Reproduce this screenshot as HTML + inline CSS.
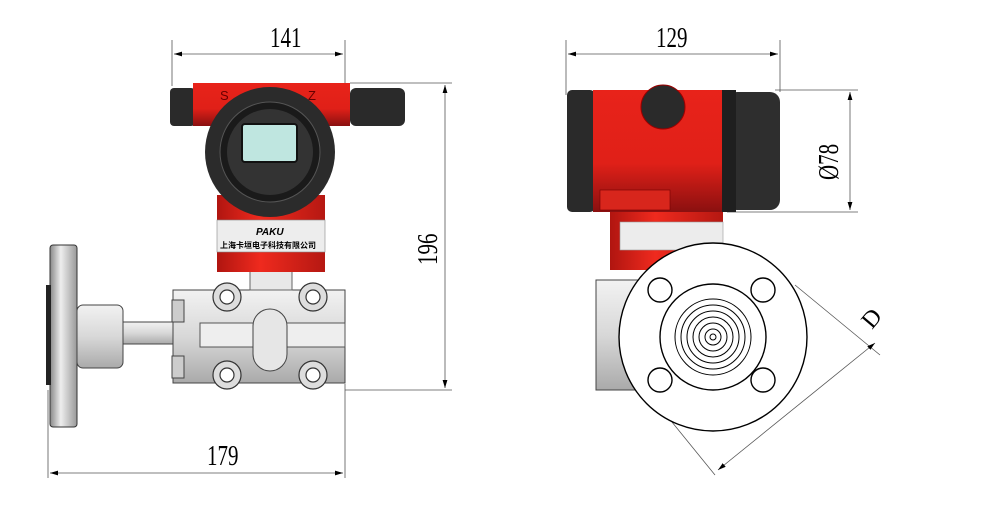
<!DOCTYPE html>
<html><head><meta charset="utf-8"><style>body{margin:0;background:#fff}svg{display:block}</style></head><body>
<svg width="998" height="509" viewBox="0 0 998 509" xmlns="http://www.w3.org/2000/svg" font-family="Liberation Serif, serif">
<defs>
<linearGradient id="red" x1="0" y1="0" x2="0" y2="1"><stop offset="0" stop-color="#e8231a"/><stop offset="0.6" stop-color="#e02018"/><stop offset="1" stop-color="#8a1010"/></linearGradient>
<linearGradient id="redh" x1="0" y1="0" x2="1" y2="0"><stop offset="0" stop-color="#b01510"/><stop offset="0.4" stop-color="#ef2a1e"/><stop offset="1" stop-color="#b51812"/></linearGradient>
<linearGradient id="grey" x1="0" y1="0" x2="0" y2="1"><stop offset="0" stop-color="#f2f2f2"/><stop offset="0.5" stop-color="#d8d8d8"/><stop offset="1" stop-color="#aaa"/></linearGradient>
<linearGradient id="greyh" x1="0" y1="0" x2="1" y2="0"><stop offset="0" stop-color="#888"/><stop offset="0.4" stop-color="#eee"/><stop offset="1" stop-color="#999"/></linearGradient>
<marker id="a" markerWidth="10" markerHeight="6" refX="10" refY="3" orient="auto-start-reverse"><path d="M0,0 L10,3 L0,6 Z" fill="#000"/></marker>
</defs>
<g stroke="#555" stroke-width="0.8" fill="none">
<line x1="172" y1="40" x2="172" y2="86"/><line x1="345" y1="40" x2="345" y2="86"/>
<line x1="174" y1="54" x2="343" y2="54" marker-start="url(#a)" marker-end="url(#a)"/>
<line x1="350" y1="83" x2="452" y2="83"/><line x1="345" y1="390" x2="452" y2="390"/>
<line x1="445" y1="85" x2="445" y2="388" marker-start="url(#a)" marker-end="url(#a)"/>
<line x1="48" y1="390" x2="48" y2="478"/><line x1="345" y1="384" x2="345" y2="478"/>
<line x1="50" y1="473" x2="343" y2="473" marker-start="url(#a)" marker-end="url(#a)"/>
<line x1="566" y1="40" x2="566" y2="95"/><line x1="780" y1="40" x2="780" y2="92"/>
<line x1="568" y1="54" x2="778" y2="54" marker-start="url(#a)" marker-end="url(#a)"/>
<line x1="775" y1="90" x2="858" y2="90"/><line x1="727" y1="212" x2="858" y2="212"/>
<line x1="850" y1="92" x2="850" y2="210" marker-start="url(#a)" marker-end="url(#a)"/>
<line x1="795" y1="285" x2="880" y2="355"/><line x1="650" y1="395" x2="715" y2="475"/>
<line x1="718" y1="470" x2="875" y2="343" marker-start="url(#a)" marker-end="url(#a)"/>
</g>
<g font-size="28" fill="#000">
<text transform="translate(270,47) scale(0.75,1)">141</text>
<text transform="translate(656,47) scale(0.75,1)">129</text>
<text transform="translate(207,465) scale(0.75,1)">179</text>
<text transform="translate(437,265) rotate(-90) scale(0.75,1)">196</text>
<text transform="translate(838,180) rotate(-90) scale(0.75,1)">Ø78</text>
<text transform="translate(872,330) rotate(-50)" font-size="24">D</text>
</g>
<rect x="50" y="245" width="27" height="182" rx="3" fill="url(#greyh)" stroke="#333"/>
<rect x="46" y="285" width="5" height="100" fill="#222"/>
<rect x="77" y="305" width="46" height="63" rx="6" fill="url(#grey)" stroke="#444"/>
<rect x="123" y="322" width="75" height="22" fill="url(#grey)" stroke="#444"/>
<rect x="173" y="290" width="172" height="93" fill="url(#grey)" stroke="#444"/>
<rect x="172" y="300" width="12" height="22" fill="#ccc" stroke="#444"/><rect x="172" y="356" width="12" height="22" fill="#ccc" stroke="#444"/>
<rect x="200" y="323" width="145" height="24" fill="#eee" stroke="#555"/>
<rect x="253" y="309" width="34" height="62" rx="17" fill="#e6e6e6" stroke="#444"/>
<g fill="#ddd" stroke="#333" stroke-width="1.2">
<circle cx="227" cy="297" r="14"/><circle cx="313" cy="297" r="14"/><circle cx="227" cy="375" r="14"/><circle cx="313" cy="375" r="14"/>
<circle cx="227" cy="297" r="7" fill="#fff"/><circle cx="313" cy="297" r="7" fill="#fff"/><circle cx="227" cy="375" r="7" fill="#fff"/><circle cx="313" cy="375" r="7" fill="#fff"/>
</g>
<rect x="250" y="270" width="42" height="20" fill="#e8e8e8" stroke="#666"/>
<rect x="217" y="195" width="108" height="77" fill="url(#redh)"/>
<rect x="217" y="220" width="108" height="32" fill="#ededed" stroke="#888" stroke-width="0.6"/>
<text x="256" y="235" font-family="Liberation Sans,sans-serif" font-size="10" font-weight="bold" font-style="italic">PAKU</text>
<text x="220" y="248" font-family="Liberation Sans,Noto Sans CJK SC,sans-serif" font-size="8" font-weight="bold">上海卡垣电子科技有限公司</text>
<rect x="170" y="88" width="25" height="38" rx="4" fill="#2a2a2a"/>
<rect x="350" y="88" width="55" height="38" rx="6" fill="#2a2a2a"/>
<rect x="193" y="83" width="157" height="43" fill="url(#red)"/>
<text x="220" y="100" font-family="Liberation Sans,sans-serif" font-size="13" fill="#600">S</text>
<text x="308" y="100" font-family="Liberation Sans,sans-serif" font-size="13" fill="#600">Z</text>
<circle cx="270" cy="152" r="65" fill="#2b2b2b"/>
<circle cx="270" cy="152" r="50" fill="#1a1a1a" stroke="#555"/>
<circle cx="270" cy="152" r="43" fill="#333"/>
<rect x="242" y="124" width="55" height="38" rx="3" fill="#bfe6e0" stroke="#111" stroke-width="2"/>
<rect x="596" y="280" width="44" height="110" fill="url(#grey)" stroke="#444"/>
<rect x="610" y="212" width="113" height="58" fill="url(#redh)"/>
<rect x="620" y="222" width="103" height="28" fill="#ececec" stroke="#999" stroke-width="0.6"/>
<rect x="567" y="90" width="28" height="122" rx="5" fill="#2a2a2a"/>
<rect x="593" y="90" width="134" height="122" fill="url(#red)"/>
<rect x="600" y="190" width="70" height="20" fill="#d8261c" stroke="#700" stroke-width="0.6"/>
<rect x="727" y="92" width="53" height="118" rx="10" fill="#2e2e2e"/>
<rect x="722" y="90" width="14" height="122" fill="#1f1f1f"/>
<circle cx="663" cy="107" r="22" fill="#2a2a2a" stroke="#900"/>
<g stroke="#000" fill="#fff" stroke-width="1.4">
<circle cx="713" cy="337" r="94"/>
<circle cx="713" cy="337" r="53" fill="none"/>
<circle cx="660" cy="290" r="12"/><circle cx="763" cy="290" r="12"/><circle cx="660" cy="380" r="12"/><circle cx="763" cy="380" r="12"/>
<circle cx="713" cy="337" r="38" fill="none" stroke-width="1"/>
<circle cx="713" cy="337" r="32" fill="none" stroke-width="1"/>
<circle cx="713" cy="337" r="26" fill="none" stroke-width="1"/>
<circle cx="713" cy="337" r="20" fill="none" stroke-width="1"/>
<circle cx="713" cy="337" r="14" fill="none" stroke-width="1"/>
<circle cx="713" cy="337" r="8" fill="none" stroke-width="1"/>
<circle cx="713" cy="337" r="3" fill="none" stroke-width="1"/>
</g>
</svg>
</body></html>
